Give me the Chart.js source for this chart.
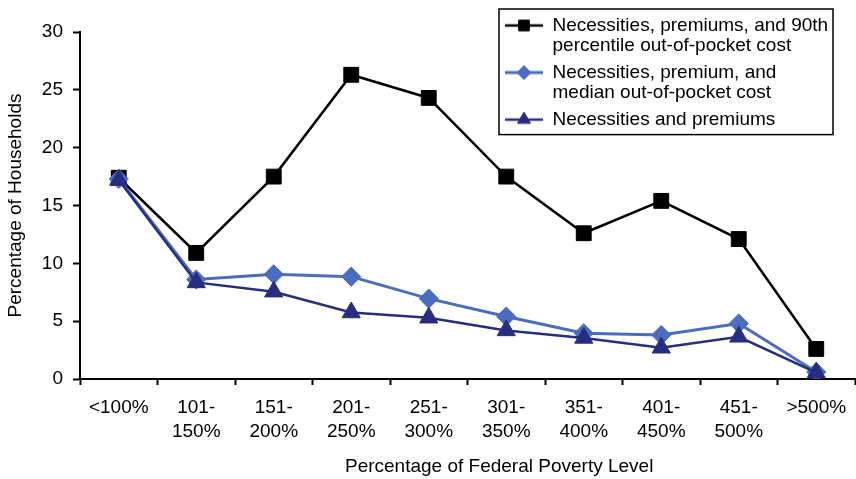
<!DOCTYPE html>
<html>
<head>
<meta charset="utf-8">
<script src="https://cdn.jsdelivr.net/npm/chart.js@4/dist/chart.umd.min.js"></script>
<style>
  html, body { margin: 0; padding: 0; background: #fff; }
  #wrap { width: 856px; height: 479px; position: relative; }
</style>
</head>
<body>
<div id="wrap"><canvas id="chart"></canvas></div>
<script>
// Income bands (percentage of the federal poverty level), two-line tick labels
const categories = [
  ['<100%'], ['101-', '150%'], ['151-', '200%'], ['201-', '250%'], ['251-', '300%'],
  ['301-', '350%'], ['351-', '400%'], ['401-', '450%'], ['451-', '500%'], ['>500%']
];

const seriesNames = [
  'Necessities, premiums, and 90th percentile out-of-pocket cost',
  'Necessities, premium, and median out-of-pocket cost',
  'Necessities and premiums'
];
const legendLines = [
  ['Necessities, premiums, and 90th', 'percentile out-of-pocket cost'],
  ['Necessities, premium, and', 'median out-of-pocket cost'],
  ['Necessities and premiums']
];

// Percentage of households in each band
const p90Values     = [17.4, 10.9, 17.5, 26.3, 24.3, 17.5, 12.6, 15.4, 12.1, 2.6];
const medianValues  = [17.3, 8.6, 9.05, 8.85, 6.95, 5.4, 3.95, 3.8, 4.8, 0.6];
const premiumValues = [17.2, 8.35, 7.55, 5.75, 5.3, 4.2, 3.55, 2.7, 3.65, 0.55];

const yTicks = [0, 5, 10, 15, 20, 25, 30];

const xTitle = 'Percentage of Federal Poverty Level';
const yTitle = 'Percentage of Households';

const FONT = 'Liberation Sans, Arial, Helvetica, sans-serif';
const FONT_SIZE = 19;
const colors = ['#000000', '#4a6dbf', '#272d80'];
const styles = ['rect', 'rectRot', 'triangle'];
const radii = [10.5, 9.6, 10.5];
const lineWidths = [2.5, 3, 2.5];

// Legend swatch: short line segment with the series marker in the middle
function legendIcon(i) {
  const c = document.createElement('canvas');
  c.width = 38; c.height = 16;
  const g = c.getContext('2d');
  g.strokeStyle = colors[i];
  g.lineWidth = lineWidths[i];
  g.beginPath(); g.moveTo(0, 8); g.lineTo(38, 8); g.stroke();
  g.fillStyle = colors[i];
  g.lineWidth = 1;
  Chart.helpers.drawPoint(g, { pointStyle: styles[i], radius: radii[i] * 0.72, rotation: 0, borderWidth: 1 }, 19, 8);
  return c;
}
const icons = [0, 1, 2].map(legendIcon);

const seriesValues = [p90Values, medianValues, premiumValues];
const datasets = seriesValues.map((vals, i) => ({
  label: seriesNames[i],
  data: vals,
  borderColor: colors[i],
  backgroundColor: colors[i],
  borderWidth: lineWidths[i],
  pointStyle: styles[i],
  pointRadius: radii[i],
  pointBackgroundColor: colors[i],
  pointBorderColor: colors[i],
  pointBorderWidth: 1,
  tension: 0,
  order: 2 - i
}));

// Boxed legend placed in the upper right corner of the plot
const legendBox = {
  id: 'legendBox',
  afterLayout(chart) {
    const lg = chart.legend, ca = chart.chartArea;
    const w = lg.width, h = lg.height;
    lg.left = ca.right - 356;
    lg.top = ca.top - 22;
    lg.right = lg.left + w;
    lg.bottom = lg.top + h;
  },
  afterDraw(chart) {
    const lg = chart.legend, ca = chart.chartArea;
    const pad = lg.options.labels.padding;
    let h = pad;
    lg.legendHitBoxes.forEach(b => { h += b.height + pad; });
    const ctx = chart.ctx;
    ctx.save();
    ctx.strokeStyle = '#000';
    ctx.lineWidth = 1.5;
    ctx.strokeRect(lg.left, lg.top - 1, ca.right - 22 - lg.left, h - 1);
    ctx.restore();
  }
};

new Chart(document.getElementById('chart'), {
  type: 'line',
  data: { labels: categories, datasets },
  plugins: [legendBox],
  options: {
    responsive: true,
    maintainAspectRatio: false,
    animation: false,
    events: [],
    layout: { autoPadding: false, padding: { top: 32, right: 1, left: 0, bottom: 0 } },
    plugins: {
      tooltip: { enabled: false },
      legend: {
        position: 'chartArea',
        align: 'start',
        labels: {
          usePointStyle: true,
          pointStyleWidth: 38,
          padding: 6,
          color: '#000',
          font: { family: FONT, size: FONT_SIZE, lineHeight: 1.08 },
          sort: (a, b) => a.datasetIndex - b.datasetIndex,
          generateLabels(chart) {
            const items = Chart.defaults.plugins.legend.labels.generateLabels(chart);
            items.forEach(it => {
              it.text = legendLines[it.datasetIndex];
              it.pointStyle = icons[it.datasetIndex];
            });
            return items;
          }
        }
      }
    },
    scales: {
      x: {
        offset: true,
        afterFit(scale) { scale.height = 100; scale.paddingLeft = 0; scale.paddingRight = 0; },
        grid: { drawOnChartArea: false, offset: true, tickLength: 6, tickWidth: 2, tickColor: '#000' },
        border: { color: '#000', width: 2 },
        ticks: { color: '#000', padding: 11, maxRotation: 0, autoSkip: false,
                 font: { family: FONT, size: FONT_SIZE, lineHeight: 1.27 } },
        title: { display: true, text: ' '.repeat(12) + xTitle, color: '#000',
                 font: { family: FONT, size: FONT_SIZE, lineHeight: 1.2 }, padding: { top: 12, bottom: 1 } }
      },
      y: {
        min: 0, max: 30,
        afterBuildTicks(scale) { scale.ticks = yTicks.map(v => ({ value: v })); },
        afterFit(scale) { scale.width = 80; },
        grid: { drawOnChartArea: false, tickLength: 7, tickWidth: 2, tickColor: '#000' },
        border: { color: '#000', width: 2 },
        ticks: { color: '#000', padding: 10, font: { family: FONT, size: FONT_SIZE } },
        title: { display: true, text: yTitle, color: '#000',
                 font: { family: FONT, size: FONT_SIZE, lineHeight: 1.2 }, padding: { top: 4, bottom: 4 } }
      }
    }
  }
});
</script>
</body>
</html>
